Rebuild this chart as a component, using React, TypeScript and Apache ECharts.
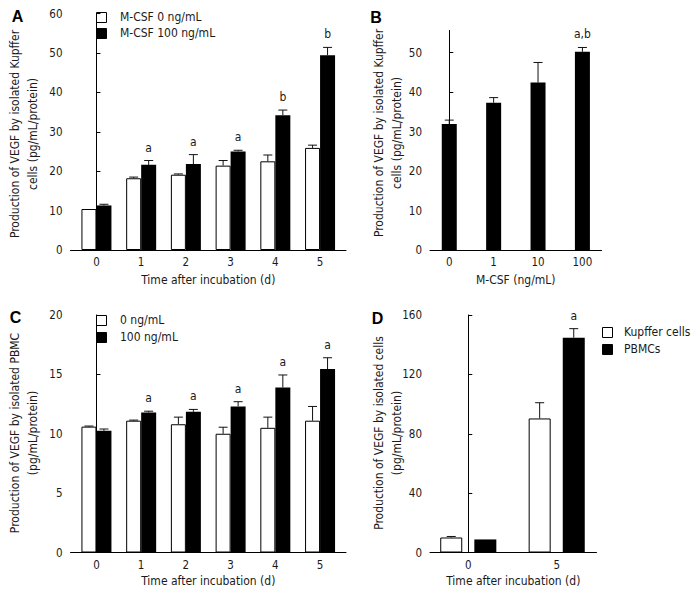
import React, { useEffect, useRef } from "react";
import * as echarts from "echarts";

// ---------- data ----------
const days = ["0", "1", "2", "3", "4", "5"];
// Panel A: Kupffer cells
const aLegend = ["M-CSF 0 ng/mL", "M-CSF 100 ng/mL"];
const aCtrl = [10.4, 18.2, 19.1, 21.4, 22.5, 25.9];
const aCtrlErr = [0.1, 0.3, 0.2, 1.3, 1.6, 0.7];
const aMcsf = [11.3, 21.6, 21.8, 25.0, 34.2, 49.4];
const aMcsfErr = [0.3, 1.1, 2.4, 0.3, 1.3, 2.0];
const aSig = ["", "a", "a", "a", "b", "b"];
// Panel B: dose response
const doses = ["0", "1", "10", "100"];
const bVals = [31.9, 37.3, 42.4, 50.2];
const bErr = [1.0, 1.3, 5.1, 1.1];
const bSig = ["", "", "", "a,b"];
// Panel C: PBMC
const cLegend = ["0 ng/mL", "100 ng/mL"];
const cCtrl = [10.6, 11.1, 10.8, 10.0, 10.5, 11.1];
const cCtrlErr = [0.05, 0.05, 0.6, 0.55, 0.9, 1.2];
const cMcsf = [10.25, 11.8, 11.85, 12.3, 13.9, 15.45];
const cMcsfErr = [0.15, 0.1, 0.2, 0.4, 1.05, 0.95];
const cSig = ["", "a", "a", "a", "a", "a"];
// Panel D: Kupffer vs PBMC
const dLegend = ["Kupffer cells", "PBMCs"];
const dDays = ["0", "5"];
const dKupffer = [10.1, 90.3];
const dKupfferErr = [0.7, 10.6];
const dPbmc = [8.8, 144.7];
const dPbmcErr = [0, 6.1];
const dSig = ["", "a"];

const FONT = "'DejaVu Sans Condensed', 'DejaVu Sans', sans-serif";
const TXT = "#1a1a1a";
const FS = 11.5;

function xAxisCfg(grid: number, cats: string[], min: number, max: number, name: string, nameGap: number) {
  return {
    gridIndex: grid,
    type: "value",
    min,
    max,
    axisLine: { show: true, onZero: false, lineStyle: { color: "#000", width: 1 } },
    axisTick: { show: false },
    splitLine: { show: false },
    axisLabel: {
      customValues: cats.map((_, i) => i),
      formatter: (v: number) => cats[Math.round(v)] ?? "",
      margin: 6,
      color: TXT,
      fontSize: FS,
      fontFamily: FONT,
    },
    name,
    nameLocation: "middle",
    nameGap,
    nameTextStyle: { color: TXT, fontSize: FS + 0.5, fontFamily: FONT },
  };
}

function yAxisCfg(grid: number, min: number, max: number, interval: number, ticks?: number[]) {
  const cfg: any = {
    gridIndex: grid,
    type: "value",
    min,
    max,
    axisLine: { show: true, lineStyle: { color: "#000", width: 1 } },
    axisTick: { show: true, inside: true, length: 4, lineStyle: { color: "#000" } },
    splitLine: { show: false },
    axisLabel: { margin: 8, color: TXT, fontSize: FS, fontFamily: FONT },
  };
  if (ticks) {
    cfg.axisTick.customValues = ticks;
    cfg.axisLabel.customValues = ticks;
  } else {
    cfg.interval = interval;
  }
  return cfg;
}

const WHITE_STYLE = { color: "#fff", borderColor: "#000", borderWidth: 1 };
const BLACK_STYLE = { color: "#000", borderColor: "#000", borderWidth: 0 };

function barSeries(name: string, grid: number, vals: number[], white: boolean, width: number, gap: string) {
  return {
    name,
    type: "bar",
    xAxisIndex: grid,
    yAxisIndex: grid,
    data: vals.map((v, i) => [i, v]),
    barWidth: width,
    barGap: gap,
    itemStyle: white ? WHITE_STYLE : BLACK_STYLE,
    silent: true,
    z: 3,
  };
}

function errSeries(grid: number, vals: number[], errs: number[], offset: number, sig?: string[]) {
  return {
    type: "custom",
    xAxisIndex: grid,
    yAxisIndex: grid,
    silent: true,
    z: 5,
    data: vals.map((v, i) => [i, v, v + errs[i]]),
    renderItem: (params: any, api: any) => {
      const i = params.dataIndex;
      const base = api.coord([api.value(0), api.value(1)]);
      const top = api.coord([api.value(0), api.value(2)]);
      const x = base[0] + offset;
      const children: any[] = [];
      if (top[1] < base[1] - 0.5) {
        children.push({
          type: "line",
          shape: { x1: x, y1: base[1], x2: x, y2: top[1] },
          style: { stroke: "#111", lineWidth: 1 },
        });
        children.push({
          type: "line",
          shape: { x1: x - 4.5, y1: top[1], x2: x + 4.5, y2: top[1] },
          style: { stroke: "#111", lineWidth: 1 },
        });
      }
      if (sig && sig[i]) {
        children.push({
          type: "text",
          x,
          y: top[1] - 13,
          style: {
            text: sig[i],
            fill: TXT,
            font: `${FS + 0.5}px ${FONT}`,
            align: "center",
            verticalAlign: "middle",
          },
        });
      }
      return { type: "group", children };
    },
  };
}

function rotText(text: string, x: number, y: number) {
  return {
    type: "text",
    x,
    y,
    rotation: Math.PI / 2,
    style: {
      text,
      fill: TXT,
      font: `${FS + 0.5}px ${FONT}`,
      textAlign: "center",
      textVerticalAlign: "middle",
      align: "center",
      verticalAlign: "middle",
    },
  };
}

function letter(text: string, x: number, y: number) {
  return {
    type: "text",
    x,
    y,
    style: {
      text,
      fill: "#000",
      font: `bold 16px 'Liberation Sans', Arial, sans-serif`,
      textAlign: "center",
      textVerticalAlign: "middle",
      align: "center",
      verticalAlign: "middle",
    },
  };
}

// legend drawn as graphic boxes + labels
function legendItems(names: string[], boxX: number, centers: number[], textX: number) {
  const out: any[] = [];
  names.forEach((n, i) => {
    const cy = centers[i];
    out.push({
      type: "rect",
      shape: { x: boxX, y: Math.round(cy - 5) + 0.5, width: 10, height: 10 },
      style: i === 0 ? { fill: "#fff", stroke: "#000", lineWidth: 1 } : { fill: "#000", stroke: "#000", lineWidth: 1 },
    });
    out.push({
      type: "text",
      x: textX,
      y: cy,
      style: {
        text: n,
        fill: TXT,
        font: `${FS + 0.5}px ${FONT}`,
        textAlign: "left",
        textVerticalAlign: "middle",
        align: "left",
        verticalAlign: "middle",
      },
    });
  });
  return out;
}

export default function App() {
  const ref = useRef<HTMLDivElement>(null);
  useEffect(() => {
    document.body.style.margin = "0";
    if (!ref.current) return;
    const chart = echarts.init(ref.current, undefined, { renderer: "svg" });
    const offA = 7.5;
    const offD = (22 + 22 * 0.55) / 2;
    const option: any = {
      animation: false,
      backgroundColor: "#fff",
      textStyle: { fontFamily: FONT },
      grid: [
        { left: 70.5, top: 13.5, width: 275.5, height: 236.5 },
        { left: 430, top: 30.5, width: 171.5, height: 219.5 },
        { left: 70.5, top: 315, width: 275.5, height: 237.5 },
        { left: 430, top: 315, width: 166.5, height: 237.5 },
      ],
      xAxis: [
        xAxisCfg(0, days, -0.58, 5.58, "Time after incubation (d)", 24),
        xAxisCfg(1, doses, -0.434, 3.43, "M-CSF (ng/mL)", 24),
        xAxisCfg(2, days, -0.58, 5.58, "Time after incubation (d)", 22),
        xAxisCfg(3, dDays, -0.433, 1.45, "Time after incubation (d)", 22),
      ],
      yAxis: [
        yAxisCfg(0, 0, 60, 10),
        yAxisCfg(1, 0, 55.6, 10, [0, 10, 20, 30, 40, 50]),
        yAxisCfg(2, 0, 20, 5),
        yAxisCfg(3, 0, 160, 40),
      ],
      series: [
        barSeries(aLegend[0], 0, aCtrl, true, 15, "0%"),
        barSeries(aLegend[1], 0, aMcsf, false, 15, "0%"),
        errSeries(0, aCtrl, aCtrlErr, -offA),
        errSeries(0, aMcsf, aMcsfErr, offA, aSig),
        barSeries("M-CSF", 1, bVals, false, 15, "0%"),
        errSeries(1, bVals, bErr, 0, bSig),
        barSeries(cLegend[0], 2, cCtrl, true, 15, "0%"),
        barSeries(cLegend[1], 2, cMcsf, false, 15, "0%"),
        errSeries(2, cCtrl, cCtrlErr, -offA),
        errSeries(2, cMcsf, cMcsfErr, offA, cSig),
        barSeries(dLegend[0], 3, dKupffer, true, 22, "55%"),
        barSeries(dLegend[1], 3, dPbmc, false, 22, "55%"),
        errSeries(3, dKupffer, dKupfferErr, -offD),
        errSeries(3, dPbmc, dPbmcErr, offD, dSig),
      ],
      graphic: [
        letter("A", 17.5, 16),
        letter("B", 376, 17),
        letter("C", 15.5, 317),
        letter("D", 377.5, 318.5),
        rotText("Production of VEGF by isolated Kupffer", 15, 134),
        rotText("cells (pg/mL/protein)", 33, 134),
        rotText("Production of VEGF by isolated Kupffer", 378.5, 133),
        rotText("cells (pg/mL/protein)", 397, 133),
        rotText("Production of VEGF by isolated PBMC", 15, 433),
        rotText("(pg/mL/protein)", 33, 433),
        rotText("Production of VEGF by isolated cells", 378.5, 433),
        rotText("(pg/mL/protein)", 397, 433),
        ...legendItems(aLegend, 96.5, [17, 33], 120),
        ...legendItems(cLegend, 96.5, [320, 336.5], 120),
        ...legendItems(dLegend, 602.5, [331.5, 348.5], 624),
      ],
    };
    chart.setOption(option);
    return () => chart.dispose();
  }, []);
  return <div ref={ref} style={{ width: 700, height: 599 }} />;
}
